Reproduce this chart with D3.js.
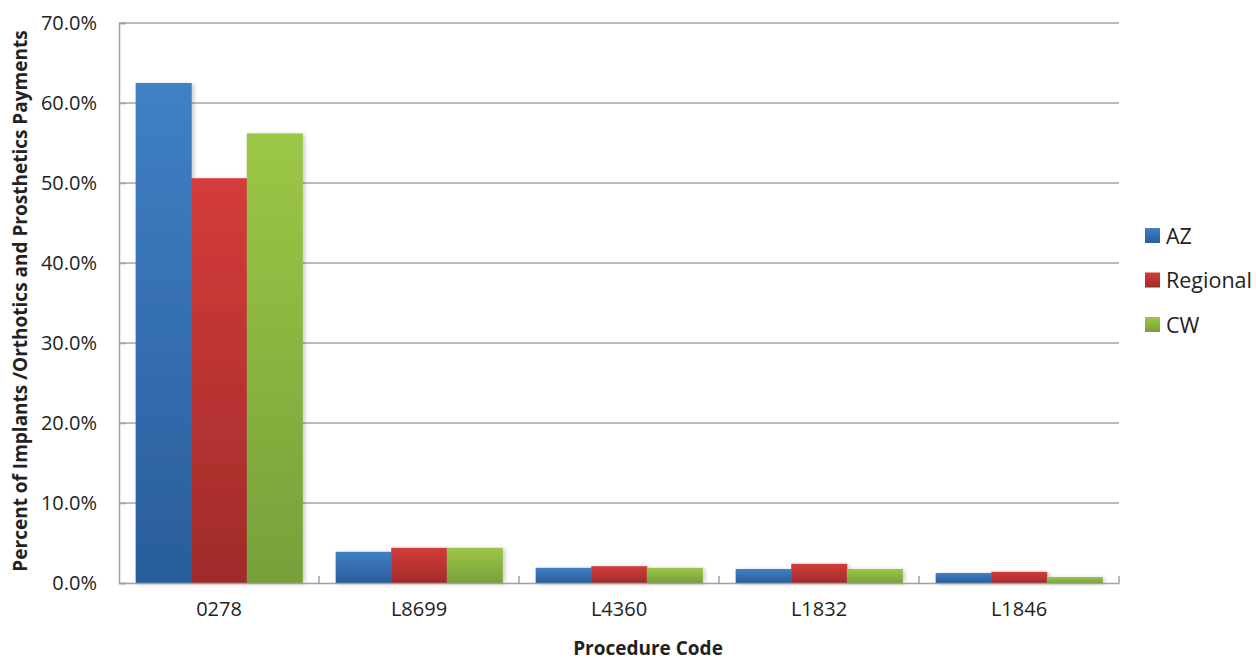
<!DOCTYPE html>
<html><head><meta charset="utf-8">
<script src="https://cdn.jsdelivr.net/npm/d3@7"></script>
<style>body{margin:0;background:#fff;font-family:"Open Sans",sans-serif}</style>
</head><body><svg id="c" width="1257" height="662"></svg>
<script>
const categories = ["0278","L8699","L4360","L1832","L1846"];
const seriesNames = ["AZ","Regional","CW"];
const azValues = [62.5, 3.9, 1.9, 1.75, 1.25];
const regionalValues = [50.6, 4.4, 2.1, 2.4, 1.4];
const cwValues = [56.2, 4.4, 1.9, 1.75, 0.75];
const yTicks = [0,10,20,30,40,50,60,70];
const colors = {AZ:["#4080c4","#2a5d9c"], Regional:["#d43c3b","#a02b2a"], CW:["#9dc746","#77a03a"]};
const FONT = "'Open Sans', sans-serif";

const seriesVals = {AZ: azValues, Regional: regionalValues, CW: cwValues};
const svg = d3.select("#c");
const m = {l:119, r:1119, t:23, b:583};
const x = d3.scaleBand().domain(categories).range([m.l, m.r]).paddingInner(0).paddingOuter(0);
const inner = d3.scaleBand().domain(seriesNames).range([0, x.bandwidth()]).paddingOuter(0.3).paddingInner(0);
const y = d3.scaleLinear().domain([0,70]).range([m.b, m.t]);

const defs = svg.append("defs");
seriesNames.forEach(s=>{
  const g = defs.append("linearGradient").attr("id","g"+s).attr("x1",0).attr("y1",0).attr("x2",0).attr("y2",1);
  g.append("stop").attr("offset","0%").attr("stop-color",colors[s][0]);
  g.append("stop").attr("offset","100%").attr("stop-color",colors[s][1]);
});
const f = defs.append("filter").attr("id","sh").attr("x","-20%").attr("y","-20%").attr("width","140%").attr("height","140%");
f.append("feDropShadow").attr("dx",2).attr("dy",1).attr("stdDeviation",2).attr("flood-color","#000").attr("flood-opacity",0.22);

// gridlines
svg.append("g").selectAll("line").data(yTicks.filter(d=>d>0)).join("line")
  .attr("x1",m.l).attr("x2",m.r).attr("y1",d=>y(d)).attr("y2",d=>y(d))
  .attr("stroke","#a6a6a6").attr("stroke-width",1.5);

// bars
categories.forEach((c,i)=>{
  const g = svg.append("g").attr("transform",`translate(${x(c)},0)`).attr("filter","url(#sh)");
  seriesNames.forEach(s=>{
    const v = seriesVals[s][i];
    g.append("rect").attr("x",inner(s)).attr("width",inner.bandwidth()+0.5)
      .attr("y",y(v)).attr("height",y(0)-y(v))
      .attr("fill",`url(#g${s})`);
  });
});

// y axis
const ya = svg.append("g").attr("transform",`translate(${m.l},0)`)
  .call(d3.axisLeft(y).tickValues(yTicks).tickSize(-7).tickPadding(22).tickFormat(d=>d.toFixed(1)+"%"));
ya.select(".domain").attr("stroke","#a0a0a0").attr("stroke-width",1.5);
ya.selectAll(".tick line").attr("stroke","#a0a0a0").attr("stroke-width",1.5);
ya.selectAll("text").attr("font-size",20).attr("fill","#222").attr("font-family",FONT);

// x axis
const xa = svg.append("g").attr("transform",`translate(0,${m.b})`)
  .call(d3.axisBottom(x).tickSize(0).tickPadding(19));
xa.select(".domain").attr("stroke","#a0a0a0").attr("stroke-width",1.5);
xa.selectAll("text").attr("font-size",20).attr("fill","#222").attr("font-family",FONT);
// boundary ticks (inside)
svg.append("g").selectAll("line").data(categories.slice(1).concat(["__end"])).join("line")
  .attr("x1",d=>d==="__end"?m.r:x(d)).attr("x2",d=>d==="__end"?m.r:x(d))
  .attr("y1",m.b).attr("y2",m.b-7).attr("stroke","#a0a0a0").attr("stroke-width",1.5);

// titles
svg.append("text").attr("transform",`translate(27,301) rotate(-90)`)
  .attr("text-anchor","middle").attr("font-size",19).attr("font-weight","bold").attr("fill","#222")
  .attr("font-family",FONT)
  .text("Percent of Implants /Orthotics and Prosthetics Payments");
svg.append("text").attr("x",648).attr("y",655).attr("text-anchor","middle")
  .attr("font-size",19).attr("font-weight","bold").attr("fill","#222").attr("font-family",FONT)
  .text("Procedure Code");

// legend
const lg = svg.append("g");
seriesNames.forEach((s,i)=>{
  const yy = 235.5 + i*44.5;
  lg.append("rect").attr("x",1145).attr("y",yy-7.5).attr("width",15).attr("height",15).attr("fill",`url(#g${s})`);
  lg.append("text").attr("x",1166).attr("y",yy+8).attr("font-size",21.5).attr("fill","#222")
    .attr("font-family",FONT).text(s);
});
</script></body></html>
